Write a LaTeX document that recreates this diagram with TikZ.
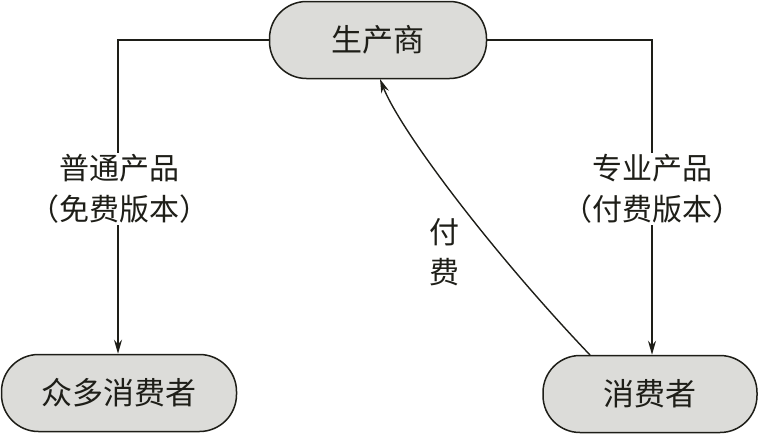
\documentclass[tikz,border=0pt]{standalone}
\usepackage{fontspec}
\newfontfamily\cjk{Noto Sans CJK SC}
\usetikzlibrary{arrows.meta}
\definecolor{boxfill}{RGB}{220,220,217}
\definecolor{ink}{RGB}{30,30,24}
\begin{document}
\begin{tikzpicture}[x=1pt,y=-1pt,
  stadium/.style={draw=ink,line width=1.5pt,fill=boxfill,rounded corners=37pt,
    minimum height=77pt,inner sep=0pt,font=\cjk\fontsize{31}{34}\selectfont,text=ink},
  conn/.style={draw=ink,line width=1.4pt,-{Stealth[length=14pt,width=8pt]}},
  lab/.style={fill=white,inner sep=1pt,align=center,font=\cjk\fontsize{30}{41}\selectfont,text=ink}]
\useasboundingbox (0,0) rectangle (760,434);
\node[stadium,minimum width=217pt] (p) at (378,40) {生产商};
\node[stadium,minimum width=235pt] (m) at (119,393) {众多消费者};
\node[stadium,minimum width=214pt] (c) at (650,394) {消费者};
\coordinate (lc) at (118,40);
\coordinate (rc) at (652,40);
\draw[conn] (p.west) -- (lc) -- (lc |- m.north);
\draw[conn] (p.east) -- (rc) -- (rc |- c.north);
\node[lab] (l1) at (119,189) {普通产品\\（免费版本）};
\node[lab] (l2) at (652,189) {专业产品\\（付费版本）};
\coordinate (cs) at (590,355);
\coordinate (ce) at (380,79);
\draw[conn] (cs) .. controls (490,250) and (400,130) .. (ce);
\node[align=center,font=\cjk\fontsize{30}{40}\selectfont,text=ink] (pay) at (444,252) {付\\费};
\end{tikzpicture}
\end{document}
